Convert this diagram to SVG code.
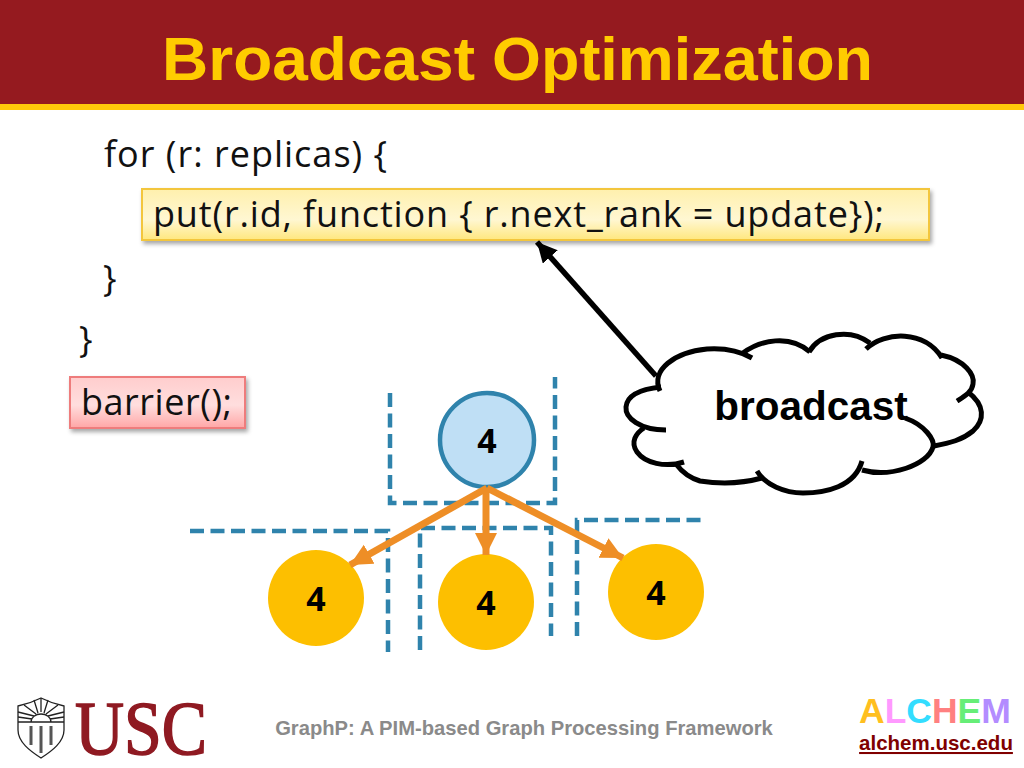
<svg xmlns="http://www.w3.org/2000/svg" width="1024" height="768" viewBox="0 0 1024 768">
<style>
.code{font-family:"Open Sans","Noto Sans",sans-serif;font-size:36px;fill:#111}
.num{font-family:"Open Sans","Noto Sans",sans-serif;font-weight:bold;font-size:34px;fill:#000;text-anchor:middle}
.dash{fill:none;stroke:#2f83ac;stroke-width:4.5;stroke-dasharray:14 6.5}
.arrow{fill:none;stroke:#ee8e26;stroke-width:7}
.cloud{fill:none;stroke:#000;stroke-width:5;stroke-linecap:butt}
.gold{fill:#fdbf00}
.logo{font-family:"Liberation Sans",Arial,sans-serif;font-weight:bold;font-size:35.5px}
.crest{fill:none;stroke:#222;stroke-width:1.3}
</style>
<defs>
<linearGradient id="yg" x1="0" y1="0" x2="0" y2="1"><stop offset="0" stop-color="#fff0ad"/><stop offset="0.6" stop-color="#fff7d2"/><stop offset="1" stop-color="#ffe77e"/></linearGradient>
<linearGradient id="rg" x1="0" y1="0" x2="0" y2="1"><stop offset="0" stop-color="#ffcdcd"/><stop offset="0.55" stop-color="#ffdede"/><stop offset="1" stop-color="#ffa6a6"/></linearGradient>
<filter id="sh" x="-5%" y="-20%" width="110%" height="140%"><feDropShadow dx="2" dy="3" stdDeviation="2" flood-color="#000" flood-opacity="0.35"/></filter>
<marker id="ah" markerUnits="userSpaceOnUse" markerWidth="26" markerHeight="24" refX="22" refY="11" orient="auto"><path d="M0 0L22 11L0 22Z" fill="#ee8e26"/></marker>
<marker id="bh" markerUnits="userSpaceOnUse" markerWidth="24" markerHeight="22" refX="20" refY="10" orient="auto"><path d="M0 0L20 10L0 20Z" fill="#000"/></marker>
</defs>
<rect width="1024" height="768" fill="#fff"/>
<g id="banner">
<rect width="1024" height="104" fill="#951a1f"/>
<rect y="104" width="1024" height="6" fill="#ffc90a"/>
<text y="80" font-family="Liberation Sans,Arial,sans-serif" font-weight="bold" font-size="62" fill="#ffcc00"><tspan x="162" textLength="313" lengthAdjust="spacingAndGlyphs">Broadcast</tspan> <tspan x="492" textLength="381" lengthAdjust="spacingAndGlyphs">Optimization</tspan></text>
</g>
<g id="code">
<text class="code" x="104" y="167" textLength="283">for (r: replicas) {</text>
<text class="code" x="103" y="291">}</text>
<text class="code" x="79" y="352">}</text>
</g>
<g id="put-box">
<rect x="142" y="189" width="787" height="51" fill="url(#yg)" stroke="#f3c63e" stroke-width="2" filter="url(#sh)"/>
<text class="code" x="153" y="227" textLength="731">put(r.id, function { r.next_rank = update});</text>
</g>
<g id="barrier-box">
<rect x="70" y="377" width="175" height="51" fill="url(#rg)" stroke="#ee7b7b" stroke-width="2" filter="url(#sh)"/>
<text class="code" x="81" y="415" textLength="151">barrier();</text>
</g>
<g id="partitions">
<path class="dash" d="M390 393V503H555V377"/>
<path class="dash" d="M190 531H388V652"/>
<path class="dash" d="M420 650V528H551V636"/>
<path class="dash" d="M577 636V520H706" stroke-dasharray="14 6"/>
</g>
<g id="node-top">
<circle cx="487" cy="440" r="47" fill="#bfdff5" stroke="#2f83ac" stroke-width="4.5"/>
<text class="num" x="487" y="453">4</text>
</g>
<g id="node-left"><circle cx="316" cy="598" r="48" class="gold"/><text class="num" x="316" y="611">4</text></g>
<g id="node-mid"><circle cx="486" cy="602" r="48" class="gold"/><text class="num" x="486" y="615">4</text></g>
<g id="node-right"><circle cx="656" cy="592" r="48" class="gold"/><text class="num" x="656" y="605">4</text></g>
<g id="connectors">
<line class="arrow" x1="487" y1="488" x2="350" y2="565" marker-end="url(#ah)"/>
<line class="arrow" x1="486" y1="488" x2="486" y2="555" marker-end="url(#ah)"/>
<line class="arrow" x1="487" y1="488" x2="623" y2="558" marker-end="url(#ah)"/>
<line x1="656" y1="376" x2="537" y2="242" stroke="#000" stroke-width="5.5" marker-end="url(#bh)"/>
</g>
<g id="cloud">
<path class="cloud" d="M660 391C650 370 675 352 707 349C722 348 738 350 752 358"/>
<path class="cloud" d="M743 353C760 340 790 334 810 352"/>
<path class="cloud" d="M809 352C820 333 850 328 870 343"/>
<path class="cloud" d="M866 349C885 331 925 330 942 358"/>
<path class="cloud" d="M941 355C965 360 975 375 973 384C972 392 965 396 957 401"/>
<path class="cloud" d="M968 392C985 405 985 420 973 431C962 440 950 443 934 446"/>
<path class="cloud" d="M905 418C925 425 935 440 933 447C928 465 890 478 862 470"/>
<path class="cloud" d="M862 461C855 487 825 493 803 493C785 493 765 485 757 471"/>
<path class="cloud" d="M762 478C740 484 720 484 700 481C690 478 682 472 676 464"/>
<path class="cloud" d="M684 462C665 468 645 463 637 452C630 442 636 433 644 428"/>
<path class="cloud" d="M666 430C640 430 625 418 626 407C627 395 642 389 661 387"/>
<text x="811" y="420" text-anchor="middle" font-family="Liberation Sans,Arial,sans-serif" font-weight="bold" font-size="40.5" fill="#000">broadcast</text>
</g>
<g id="footer">
<text x="524" y="735" text-anchor="middle" font-family="Liberation Sans,Arial,sans-serif" font-weight="bold" font-size="20.2" fill="#8a8a8a">GraphP: A PIM-based Graph Processing Framework</text>
</g>
<g id="usc-logo">
<path class="crest" d="M18 706C28 704 35 701 41 698C47 701 54 704 64 706V730C64 742 52 751 41 758C30 751 18 742 18 730Z"/>
<path class="crest" d="M18 722H64M18 717L32 719M18 712L34 716M24 705L36 714M41 698V712M34 700L38 713M48 700L44 713M58 705L46 714M64 712L48 716M64 717L50 719M31 722A10 8 0 0 1 51 722"/>
<path fill="none" stroke="#555" stroke-width="3" d="M31 726V745M41 726V753M51 726V745"/>
<text x="75" y="754" font-family="Liberation Serif,serif" font-size="76" fill="#8f1a22" stroke="#8f1a22" stroke-width="1.6" textLength="132" lengthAdjust="spacingAndGlyphs">USC</text>
</g>
<g id="alchem-logo">
<text class="logo" x="859" y="723"><tspan fill="#ffbf1f">A</tspan><tspan fill="#ff99ff">L</tspan><tspan fill="#33ddff">C</tspan><tspan fill="#ff8080">H</tspan><tspan fill="#66ee77">E</tspan><tspan fill="#b38cff">M</tspan></text>
<text x="936" y="750" text-anchor="middle" font-family="Liberation Sans,Arial,sans-serif" font-weight="bold" font-size="20.5" fill="#800000" text-decoration="underline">alchem.usc.edu</text>
</g>
</svg>
